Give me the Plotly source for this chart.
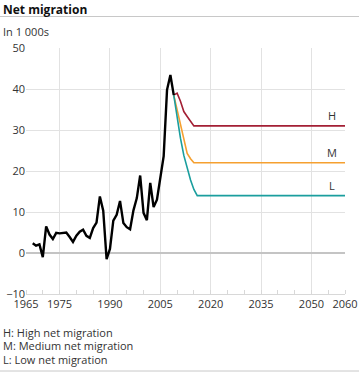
import plotly.graph_objects as go

# Historical net migration (in 1 000s)
hist_years = list(range(1967, 2010))
hist_values = [2.4, 1.8, 2.1, -1.0, 6.5, 4.5, 3.4, 4.9, 4.8, 4.9,
               5.0, 3.9, 2.7, 4.2, 5.2, 5.7, 4.2, 3.7, 6.1, 7.4,
               13.8, 10.3, -1.5, 1.0, 7.9, 9.3, 12.7, 7.3, 6.3, 5.8,
               10.4, 13.4, 18.9, 9.8, 8.0, 17.1, 11.2, 13.0, 17.9, 23.6,
               39.8, 43.4, 38.5]

# Projections
proj_years = [2009, 2010, 2011, 2012, 2013, 2014, 2015, 2016, 2060]
high_values = [38.5, 39.0, 37.0, 34.5, 33.3, 32.2, 31.0, 31.0, 31.0]
medium_values = [38.5, 35.0, 31.0, 27.3, 24.3, 23.0, 22.0, 22.0, 22.0]
low_values = [38.5, 33.0, 28.0, 23.8, 20.5, 17.8, 15.5, 14.0, 14.0]

series_labels = ["H", "M", "L"]
note_lines = ["H: High net migration", "M: Medium net migration", "L: Low net migration"]

x_ticks = [1965, 1975, 1990, 2005, 2020, 2035, 2050, 2060]
y_ticks = [-10, 0, 10, 20, 30, 40, 50]

FONT = "Open Sans"
TXT = "#333333"
colors = {"H": "#a31f34", "M": "#f5a030", "L": "#1a9e9e"}

fig = go.Figure()
for lab, vals in zip(series_labels, [high_values, medium_values, low_values]):
    fig.add_trace(go.Scatter(x=proj_years, y=vals, mode="lines",
                             line=dict(color=colors[lab], width=1.6),
                             hoverinfo="skip", showlegend=False))
fig.add_trace(go.Scatter(x=hist_years, y=hist_values, mode="lines",
                         line=dict(color="#000000", width=2.4),
                         showlegend=False))

# series labels at line ends
for lab, vals in zip(series_labels, [high_values, medium_values, low_values]):
    fig.add_annotation(x=2056, y=vals[-1], xref="x", yref="y", text=lab,
                       showarrow=False, yanchor="bottom", xanchor="center", yshift=1,
                       font=dict(family=FONT, size=11, color=TXT))

W, H = 359, 373
ml, mr, mt, mb = 26, 14, 48, 79
pw, ph = W - ml - mr, H - mt - mb

def px(x):
    return (x - ml) / pw

def py(y):
    return (H - mb - y) / ph

fig.add_annotation(x=px(1), y=py(9), xref="paper", yref="paper", text="<b>Net migration</b>",
                   showarrow=False, xanchor="left", yanchor="middle",
                   font=dict(family=FONT, size=12, color="#111111"))
fig.add_annotation(x=px(1), y=py(31), xref="paper", yref="paper", text="In 1 000s",
                   showarrow=False, xanchor="left", yanchor="middle",
                   font=dict(family=FONT, size=11, color=TXT))
for i, t in enumerate(note_lines):
    fig.add_annotation(x=px(1), y=py(332 + 13.5 * i), xref="paper", yref="paper", text=t,
                       showarrow=False, xanchor="left", yanchor="middle",
                       font=dict(family=FONT, size=11, color=TXT))

fig.add_shape(type="line", xref="paper", yref="paper", x0=px(0), x1=px(W), y0=py(16.5), y1=py(16.5),
              line=dict(color="#c8c8c8", width=1))
fig.add_shape(type="line", xref="paper", yref="paper", x0=px(0), x1=px(W), y0=py(371), y1=py(371),
              line=dict(color="#c8c8c8", width=1))

fig.update_xaxes(range=[1965, 2060], tickvals=x_ticks, showgrid=True, gridcolor="#e2e2e2", gridwidth=1,
                 zeroline=False, showline=True, linecolor="#d8d8d8", linewidth=1, mirror=False,
                 ticks="", tickfont=dict(family=FONT, size=11, color=TXT), automargin=False,
                 minor=dict(dtick=5, tick0=1965, ticks="inside", ticklen=4, tickcolor="#d8d8d8", showgrid=False))
fig.update_yaxes(range=[-10, 50], tickvals=y_ticks, showgrid=True, gridcolor="#e2e2e2", gridwidth=1,
                 zeroline=True, zerolinecolor="#c4c4c4", zerolinewidth=2, showline=False,
                 ticks="", tickfont=dict(family=FONT, size=11, color=TXT), automargin=False)

fig.update_layout(width=W, height=H, margin=dict(l=ml, r=mr, t=mt, b=mb, autoexpand=False),
                  plot_bgcolor="white", paper_bgcolor="white", showlegend=False)

fig.write_html("out.html", config={"displayModeBar": False})

# remove default page margin so the figure sits at the window's top-left corner
with open("out.html", "r", encoding="utf-8") as f:
    html = f.read()
html = html.replace("<head>", "<head><style>html,body{margin:0;padding:0;overflow:hidden;}</style>", 1)
with open("out.html", "w", encoding="utf-8") as f:
    f.write(html)
